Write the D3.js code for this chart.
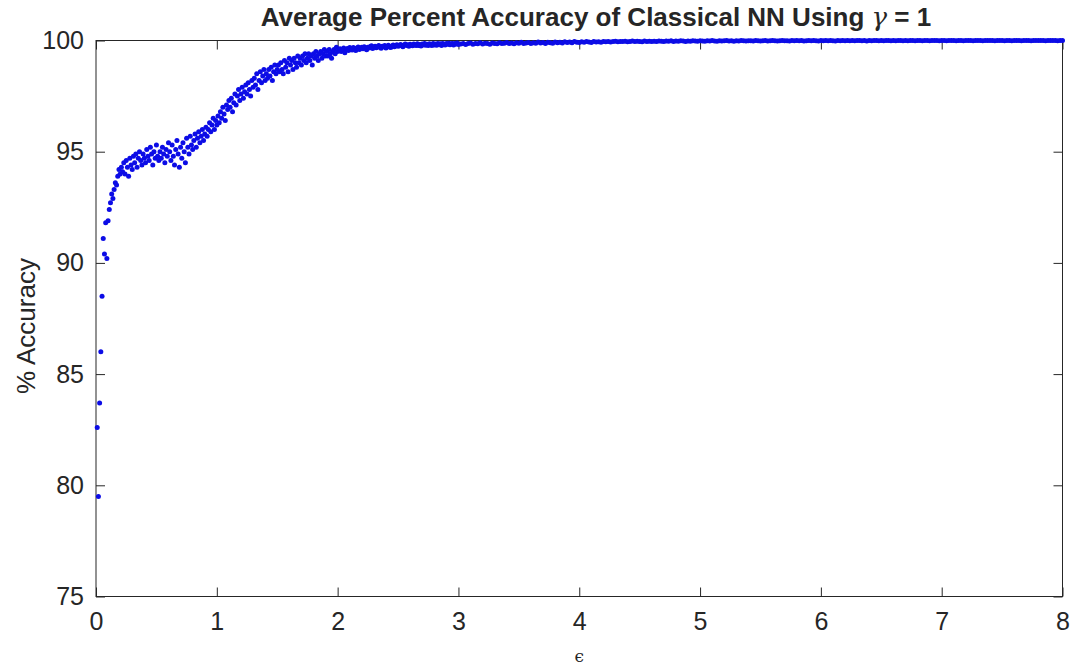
<!DOCTYPE html>
<html>
<head>
<meta charset="utf-8">
<script src="https://cdn.jsdelivr.net/npm/d3@7/dist/d3.min.js"></script>
<style>
  html, body { margin: 0; padding: 0; background: #fff; }
  svg { display: block; }
  text { font-family: "Liberation Sans", Arial, Helvetica, sans-serif; fill: #262626; }
</style>
</head>
<body>
<svg id="chart" width="1070" height="670"></svg>
<script>
// ---- Data ----
// Accuracy for epsilon = 0.01 ... 3.00 (step 0.01)
const accA = [
  82.6, 79.5, 83.7, 86.0, 88.5, 91.1, 90.4, 91.8, 90.2, 91.9,
  92.4, 92.7, 93.1, 92.9, 93.3, 93.6, 93.5, 93.9, 94.2, 94.0,
  94.3, 94.1, 94.5, 94.0, 94.6, 94.3, 93.9, 94.7, 94.4, 94.2,
  94.8, 94.5, 94.9, 94.3, 94.7, 95.0, 94.6, 94.4, 94.9, 94.7,
  94.5, 95.1, 94.8, 94.6, 95.2, 94.9, 94.4, 95.0, 94.7, 95.3,
  94.8, 94.6, 95.0, 94.7, 95.2, 94.9, 94.5, 95.1, 94.8, 95.4,
  95.0, 94.6, 95.3, 94.8, 94.4, 95.1, 95.5, 94.9, 94.3, 95.2,
  94.7, 95.4, 95.0, 94.5, 95.6, 95.2, 94.9, 95.7, 95.3, 95.1,
  95.5, 95.8, 95.2, 95.6, 95.9, 95.4, 95.7, 96.0, 95.5, 95.8,
  96.1, 95.7, 96.0, 96.3, 95.9, 96.2, 96.5, 96.0, 96.4, 96.2,
  96.6, 96.3, 96.8, 96.5, 97.0, 96.7, 96.4, 97.1, 96.9, 97.3,
  97.0, 97.4, 96.8, 97.2, 97.6, 97.1, 97.5, 97.8, 97.3, 97.6,
  97.9, 97.4, 97.7, 98.0, 97.6, 98.1, 97.8, 97.5, 98.2, 97.9,
  98.3, 98.0, 98.5, 97.8, 98.2, 98.6, 98.1, 98.4, 98.7, 98.2,
  98.5, 98.3, 98.7, 98.4, 98.8, 98.2, 98.6, 98.9, 98.5, 98.7,
  98.9, 98.6, 99.0, 98.7, 98.5, 99.1, 98.8, 99.0, 98.6, 99.2,
  98.9, 99.1, 98.7, 99.2, 99.0, 98.8, 99.3, 99.0, 99.2, 98.9,
  99.3, 99.1, 99.4, 99.0, 99.2, 99.4, 99.1, 99.3, 98.9, 99.4,
  99.2, 99.5, 99.3, 99.1, 99.4, 99.5, 99.2, 99.4, 99.6, 99.3,
  99.5, 99.3, 99.6, 99.4, 99.2, 99.5, 99.6, 99.4, 99.7, 99.5,
  99.56, 99.63, 99.51, 99.60, 99.66, 99.45, 99.58, 99.64, 99.55, 99.68,
  99.62, 99.57, 99.69, 99.64, 99.55, 99.66, 99.71, 99.59, 99.65, 99.70,
  99.63, 99.72, 99.67, 99.58, 99.70, 99.66, 99.73, 99.76, 99.64, 99.71,
  99.74, 99.67, 99.72, 99.77, 99.70, 99.65, 99.74, 99.72, 99.78, 99.66,
  99.73, 99.79, 99.71, 99.68, 99.75, 99.80, 99.72, 99.76, 99.81, 99.74,
  99.76, 99.82, 99.79, 99.72, 99.80, 99.84, 99.77, 99.81, 99.74, 99.83,
  99.79, 99.76, 99.84, 99.80, 99.77, 99.85, 99.78, 99.82, 99.75, 99.84,
  99.80, 99.86, 99.79, 99.83, 99.77, 99.85, 99.81, 99.78, 99.87, 99.80,
  99.84, 99.79, 99.86, 99.82, 99.85, 99.78, 99.87, 99.83, 99.80, 99.86,
  99.83, 99.88, 99.81, 99.85, 99.87, 99.80, 99.86, 99.84, 99.89, 99.82
];
// Accuracy for epsilon = 3.02 ... 8.00 (step 0.02)
const accB = [
  99.84, 99.87, 99.82, 99.86, 99.89, 99.83, 99.87, 99.85, 99.90, 99.84, 99.88, 99.86, 99.83, 99.89, 99.87, 99.85, 99.90, 99.86, 99.88, 99.91,
  99.87, 99.89, 99.85, 99.90, 99.88, 99.92, 99.86, 99.89, 99.91, 99.87, 99.90, 99.88, 99.93, 99.89, 99.91, 99.87, 99.92, 99.90, 99.88, 99.93,
  99.90, 99.92, 99.89, 99.94, 99.91, 99.93, 99.90, 99.95, 99.92, 99.91, 99.94, 99.92, 99.95, 99.93, 99.91, 99.96, 99.93, 99.94, 99.92, 99.96,
  99.94, 99.96, 99.93, 99.95, 99.97, 99.94, 99.96, 99.95, 99.97, 99.94, 99.96, 99.98, 99.95, 99.97, 99.96, 99.94, 99.98, 99.96, 99.97, 99.95,
  99.97, 99.96, 99.98, 99.97, 99.95, 99.98, 99.97, 99.99, 99.96, 99.98, 99.97, 99.99, 99.98, 99.96, 99.98, 99.97, 99.99, 99.98, 99.97, 99.99,
  99.98, 99.97, 99.99, 99.98, 100.0, 99.98, 99.97, 99.99, 99.98, 99.99, 100.0, 99.98, 99.99, 99.97, 99.99, 99.98, 100.0, 99.99, 99.98, 99.99,
  99.99, 99.98, 100.0, 99.99, 99.98, 99.99, 100.0, 99.98, 99.99, 100.0, 99.99, 99.98, 99.99, 100.0, 99.99, 99.99, 99.98, 100.0, 99.99, 100.0,
  99.99, 100.0, 99.98, 99.99, 100.0, 99.99, 100.0, 99.99, 99.98, 100.0, 99.99, 100.0, 99.99, 100.0, 99.99, 99.98, 100.0, 99.99, 100.0, 99.99,
  100.0, 99.99, 100.0, 99.99, 100.0, 100.0, 99.99, 100.0, 99.98, 100.0, 99.99, 100.0, 100.0, 99.99, 100.0, 99.99, 100.0, 100.0, 99.99, 100.0,
  99.99, 100.0, 100.0, 99.99, 100.0, 99.99, 100.0, 100.0, 99.99, 100.0, 100.0, 99.99, 100.0, 100.0, 99.99, 100.0, 100.0, 100.0, 99.99, 100.0,
  100.0, 99.99, 100.0, 100.0, 100.0, 99.99, 100.0, 100.0, 99.99, 100.0, 100.0, 100.0, 99.99, 100.0, 100.0, 100.0, 99.99, 100.0, 100.0, 100.0,
  100.0, 99.99, 100.0, 100.0, 100.0, 99.99, 100.0, 100.0, 99.99, 100.0, 100.0, 100.0, 99.99, 100.0, 100.0, 100.0, 99.99, 100.0, 100.0, 100.0,
  100.0, 100.0, 99.99, 100.0, 100.0, 100.0, 100.0, 99.99, 100.0, 100.0
];
const xTicks = [0, 1, 2, 3, 4, 5, 6, 7, 8];
const yTicks = [75, 80, 85, 90, 95, 100];
const titleMain = "Average Percent Accuracy of Classical NN Using ";
const titleSym = "\u03B3";
const titleEnd = " = 1";
const xLabel = "\u03F5";
const yLabel = "% Accuracy";

// epsilon grid (parameter sweep)
const epsA = accA.map((_, i) => (i + 1) / 100);
const epsB = accB.map((_, i) => 3.02 + i * 0.02);
const points = epsA.map((e, i) => ({ e, a: accA[i] }))
  .concat(epsB.map((e, i) => ({ e, a: accB[i] })));

// ---- Layout ----
const W = 1070, H = 670;
const m = { left: 96, top: 40.5, right: 7.5, bottom: 73.5 };
const iw = W - m.left - m.right, ih = H - m.top - m.bottom;

const svg = d3.select("#chart");
const g = svg.append("g").attr("transform", `translate(${m.left},${m.top})`);

const x = d3.scaleLinear().domain([0, 8]).range([0, iw]);
const y = d3.scaleLinear().domain([75, 100]).range([ih, 0]);

const tickLen = 9;
const axisColor = "#262626";

// box
g.append("rect").attr("x", 0).attr("y", 0).attr("width", iw).attr("height", ih)
  .attr("fill", "none").attr("stroke", axisColor).attr("stroke-width", 1);

// bottom axis
const xb = g.append("g").attr("transform", `translate(0,${ih})`)
  .call(d3.axisBottom(x).tickValues(xTicks).tickSizeInner(-tickLen).tickSizeOuter(0).tickPadding(16).tickFormat(d3.format("d")));
// top ticks
const xt = g.append("g")
  .call(d3.axisTop(x).tickValues(xTicks).tickSizeInner(-tickLen).tickSizeOuter(0).tickFormat(""));
// left axis
const yl = g.append("g")
  .call(d3.axisLeft(y).tickValues(yTicks).tickSizeInner(-tickLen).tickSizeOuter(0).tickPadding(12).tickFormat(d3.format("d")));
// right ticks
const yr = g.append("g").attr("transform", `translate(${iw},0)`)
  .call(d3.axisRight(y).tickValues(yTicks).tickSizeInner(-tickLen).tickSizeOuter(0).tickFormat(""));

[xb, xt, yl, yr].forEach(a => {
  a.select(".domain").remove();
  a.selectAll("line").attr("stroke", axisColor);
  a.selectAll("text").attr("fill", axisColor)
    .style("font-family", '"Liberation Sans", Arial, sans-serif')
    .style("font-size", "25px");
});

// data dots
g.append("g").selectAll("circle").data(points).enter().append("circle")
  .attr("cx", d => x(d.e))
  .attr("cy", d => y(d.a))
  .attr("r", 2.5)
  .attr("fill", "#0c0ce6");

// title
const t = svg.append("text")
  .attr("x", 596).attr("y", 26)
  .attr("text-anchor", "middle")
  .style("font-size", "26px").style("font-weight", "bold").attr("fill", "#000");
t.append("tspan").text(titleMain);
t.append("tspan").text(titleSym).style("font-weight", "normal").style("font-style", "italic").style("font-family", '"DejaVu Serif", serif');
t.append("tspan").text(titleEnd);

// axis labels
svg.append("text")
  .attr("x", m.left + iw / 2).attr("y", 662)
  .attr("text-anchor", "middle")
  .style("font-size", "17px").style("font-family", '"DejaVu Serif", serif')
  .attr("fill", axisColor)
  .text(xLabel);

svg.append("text")
  .attr("transform", `translate(35,326) rotate(-90)`)
  .attr("text-anchor", "middle")
  .style("font-size", "26px")
  .attr("fill", axisColor)
  .text(yLabel);
</script>
</body>
</html>
